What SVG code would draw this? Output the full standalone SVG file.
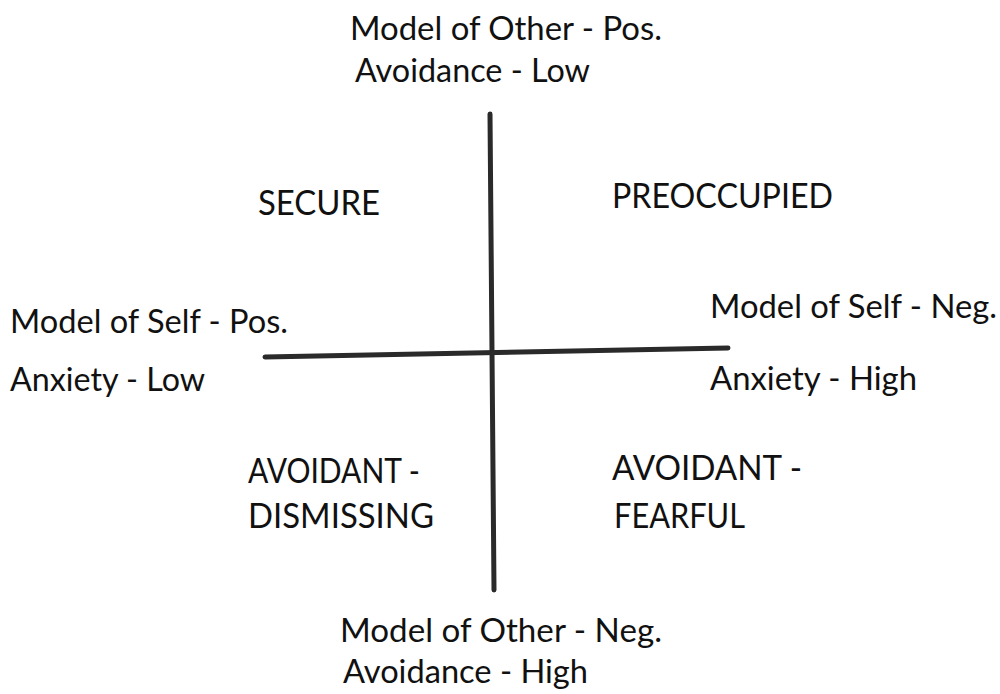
<svg xmlns="http://www.w3.org/2000/svg" width="1000" height="694" viewBox="0 0 1000 694">
<style>
text{font-family:"Lato","Liberation Sans",sans-serif;font-size:33px;fill:#111}
.cap{font-size:34px}
.ax{stroke:#2a2a2a;stroke-width:5;fill:none;stroke-linecap:round}
</style>
<rect width="1000" height="694" fill="#fff"/>
<g id="connectors">
<path class="ax" d="M490,114 L494,590"/>
<path class="ax" d="M265,357 L728,348"/>
</g>
<g id="top-label">
<text x="350" y="40" textLength="312" lengthAdjust="spacingAndGlyphs">Model of Other - Pos.</text>
<text x="355" y="82" textLength="235" lengthAdjust="spacingAndGlyphs">Avoidance - Low</text>
</g>
<g id="secure"><text class="cap" x="258" y="215" textLength="122" lengthAdjust="spacingAndGlyphs">SECURE</text></g>
<g id="preoccupied"><text class="cap" x="612" y="208" textLength="221" lengthAdjust="spacingAndGlyphs">PREOCCUPIED</text></g>
<g id="left-label">
<text x="10" y="333" textLength="278" lengthAdjust="spacingAndGlyphs">Model of Self - Pos.</text>
<text x="10" y="391" textLength="195" lengthAdjust="spacingAndGlyphs">Anxiety - Low</text>
</g>
<g id="right-label">
<text x="710" y="318" textLength="287" lengthAdjust="spacingAndGlyphs">Model of Self - Neg.</text>
<text x="710" y="390" textLength="207" lengthAdjust="spacingAndGlyphs">Anxiety - High</text>
</g>
<g id="dismissing">
<text class="cap" x="248" y="483" textLength="172" lengthAdjust="spacingAndGlyphs">AVOIDANT -</text>
<text class="cap" x="248" y="528" textLength="186" lengthAdjust="spacingAndGlyphs">DISMISSING</text>
</g>
<g id="fearful">
<text class="cap" x="612" y="480" textLength="190" lengthAdjust="spacingAndGlyphs">AVOIDANT -</text>
<text class="cap" x="614" y="528" textLength="131" lengthAdjust="spacingAndGlyphs">FEARFUL</text>
</g>
<g id="bottom-label">
<text x="340" y="642" textLength="322" lengthAdjust="spacingAndGlyphs">Model of Other - Neg.</text>
<text x="343" y="683" textLength="245" lengthAdjust="spacingAndGlyphs">Avoidance - High</text>
</g>
</svg>
